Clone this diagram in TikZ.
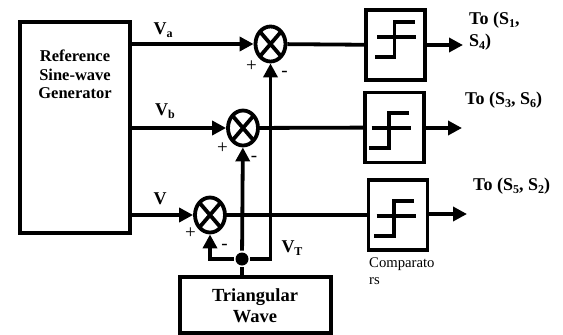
\documentclass[tikz,border=0pt]{standalone}
\usepackage{fontspec}
\setmainfont{Liberation Serif}
\usetikzlibrary{arrows.meta, positioning, shapes.geometric}
\tikzset{
  every picture/.style={line width=3.8pt},
  block/.style={draw, rectangle, align=center},
  bodytext/.style={align=center, font=\bfseries\fontsize{16.5}{18.5}\selectfont},
  comparebox/.style={draw, rectangle, minimum width=59pt, minimum height=70pt, inner sep=0pt},
  mixer/.style={draw, ellipse, minimum width=30pt, minimum height=35pt, inner sep=0pt, path picture={
    \draw[line width=3.8pt] (path picture bounding box.south west) -- (path picture bounding box.north east)
      (path picture bounding box.north west) -- (path picture bounding box.south east);}},
  arrow/.style={-{Triangle[length=14pt,width=14pt]}, line width=3.8pt},
  signal/.style={font=\bfseries\fontsize{18}{20}\selectfont},
  target/.style={font=\bfseries\fontsize{18}{22}\selectfont, align=left, anchor=north west},
  sign/.style={font=\fontsize{19}{19}\selectfont},
  dot/.style={circle, fill, inner sep=0pt, minimum size=13pt},
}
\newcommand{\subtext}[1]{\raisebox{-3pt}{\fontsize{12}{12}\selectfont #1}}
% one comparator symbol, x y of its middle
\newcommand{\stepmark}[2]{%
  \draw[shift={(#1,#2)}] (-17.5,0) -- (21.5,0);
  \draw[shift={(#1,#2)}] (20,-15) -- (0,-15) -- (0,20) -- (-20,20);}
\begin{document}
\begin{tikzpicture}[x=1pt, y=-1pt]
  \useasboundingbox (0,0) rectangle (563,335);
  % generator and triangular wave
  \node[block, minimum width=110pt, minimum height=211pt] (gen) at (75,127.5) {};
  \node[bodytext] (gentext) at (75,74.5) {Reference\\Sine-wave\\Generator};
  \node[block, minimum width=151pt, minimum height=56pt] (tri) at (255.5,305) {};
  \node[bodytext, font=\bfseries\fontsize{18.5}{21}\selectfont] (tritext) at (255,306) {Triangular\\Wave};
  % mixers
  \node[mixer] (mixa) at (270.5,44) {};
  \node[mixer] (mixb) at (243,128) {};
  \node[mixer] (mixc) at (210,215) {};
  % comparators
  \node[comparebox] (cmpa) at (395.5,45) {};
  \node[comparebox] (cmpb) at (394.5,127.5) {};
  \node[comparebox] (cmpc) at (398,215) {};
  \stepmark{394.5}{37}
  \stepmark{389}{128}
  \stepmark{394}{216}
  % outputs
  \coordinate (outa) at (463,45);
  \coordinate (outb) at (462,128);
  \coordinate (outc) at (467,214);
  \coordinate (ina) at (gen.east |- mixa);
  \coordinate (inb) at (gen.east |- mixb);
  \coordinate (inc) at (gen.east |- mixc);
  \draw[arrow] (ina) -- (mixa);
  \draw[arrow] (inb) -- (mixb);
  \draw[arrow] (inc) -- (mixc);
  \draw (mixa) -- (cmpa);
  \draw (mixb) -- (cmpb);
  \draw (mixc) -- (cmpc);
  \draw[arrow] (cmpa.east |- outa) -- (outa);
  \draw[arrow] (cmpb.east |- outb) -- (outb);
  \draw[arrow] (cmpc.east |- outc) -- (outc);
  % triangular wave feed
  \node[dot] (tap) at (242,259) {};
  \draw (tri.north -| tap) -- (tap);
  \draw[arrow] (tap) -- (mixb);
  \draw[arrow] (tap) -| (mixa);
  \draw[arrow] (tap) -| (mixc);
  % labels
  \node[signal] (la) at (163,30) {V\subtext{a}};
  \node[signal] (lb) at (165,111) {V\subtext{b}};
  \node[signal] (lc) at (160,199) {V};
  \node[signal] (lt) at (292,248) {V\subtext{T}};
  \node[sign] (pa) at (251.5,66) {+};
  \node[sign] (ma) at (284.5,74) {-};
  \node[sign] (pb) at (222.5,148) {+};
  \node[sign] (mb) at (254,159) {-};
  \node[sign] (pc) at (190.5,233) {+};
  \node[sign] (mc) at (224.5,247) {-};
  \node[target] (ta) at (464,7) {To (S\subtext{1},\\S\subtext{4})};
  \node[target] (tb) at (460,87) {To (S\subtext{3}, S\subtext{6})};
  \node[target] (tc) at (468,173) {To (S\subtext{5}, S\subtext{2})};
  \node[font=\fontsize{14.7}{17}\selectfont, align=left, anchor=north west] (note) at (364,252.5) {Comparato\\rs};
\end{tikzpicture}
\end{document}
